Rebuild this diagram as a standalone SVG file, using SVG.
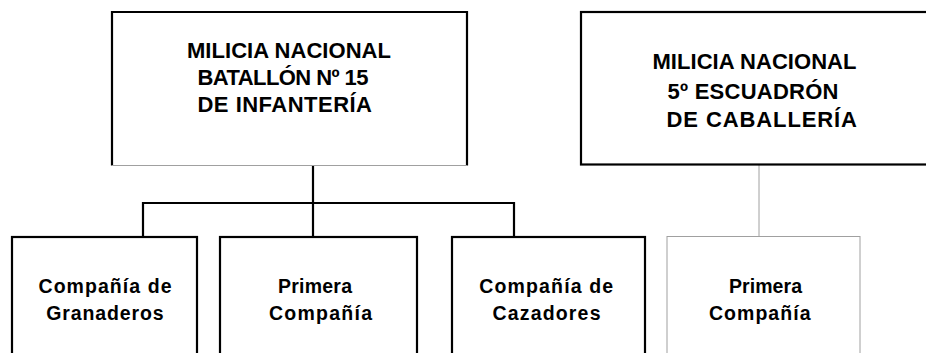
<svg xmlns="http://www.w3.org/2000/svg" width="926" height="353" viewBox="0 0 926 353">
<style>
.bx{fill:#fff;stroke:#000;stroke-width:2.2}
.gx{fill:#fff;stroke:#a0a0a0;stroke-width:1}
.t{font-family:"Liberation Sans",Arial,sans-serif;font-weight:bold;font-size:22px;fill:#000}
.s{font-family:"Liberation Sans",Arial,sans-serif;font-weight:bold;font-size:19.5px;fill:#000}
.c{fill:none;stroke:#000;stroke-width:2.2}
.cg{fill:none;stroke:#a0a0a0;stroke-width:1}
</style>
<rect width="926" height="353" fill="#fff"/>
<g id="connectors">
<path class="c" d="M313 166 V237"/>
<path class="c" d="M143 237 V203 H514 V237"/>
<path class="cg" d="M759 165 V236"/>
</g>
<g id="n1">
<rect x="112" y="12" width="355" height="153.5" fill="#fff"/>
<path class="c" d="M112 165.5 V12 H467 V165.5"/>
<path class="cg" d="M112 165.5 H467"/>
<text class="t" x="187" y="57.5" textLength="204" lengthAdjust="spacing">MILICIA NACIONAL</text>
<text class="t" x="197.5" y="84.5" textLength="171" lengthAdjust="spacing">BATALLÓN Nº 15</text>
<text class="t" x="197.5" y="112" textLength="174.5" lengthAdjust="spacing">DE INFANTERÍA</text>
</g>
<g id="n2">
<rect class="bx" x="581" y="12" width="360" height="152.5"/>
<text class="t" x="652.5" y="68.5" textLength="204" lengthAdjust="spacing">MILICIA NACIONAL</text>
<text class="t" x="667.5" y="98.5" textLength="171" lengthAdjust="spacing">5º ESCUADRÓN</text>
<text class="t" x="666.5" y="126.5" textLength="190.5" lengthAdjust="spacing">DE CABALLERÍA</text>
</g>
<g id="n3">
<rect class="bx" x="12" y="237" width="185" height="140"/>
<text class="s" x="38.5" y="293" textLength="133" lengthAdjust="spacing">Compañía de</text>
<text class="s" x="46.2" y="319.5" textLength="117.5" lengthAdjust="spacing">Granaderos</text>
</g>
<g id="n4">
<rect class="bx" x="220" y="237" width="197" height="140"/>
<text class="s" x="278" y="293" textLength="74" lengthAdjust="spacing">Primera</text>
<text class="s" x="269" y="319.5" textLength="103" lengthAdjust="spacing">Compañía</text>
</g>
<g id="n5">
<rect class="bx" x="452" y="237" width="193" height="140"/>
<text class="s" x="479.2" y="293" textLength="134" lengthAdjust="spacing">Compañía de</text>
<text class="s" x="492.5" y="319.5" textLength="108" lengthAdjust="spacing">Cazadores</text>
</g>
<g id="n6">
<rect class="gx" x="667" y="236.5" width="193" height="140"/>
<text class="s" x="729" y="293" textLength="73" lengthAdjust="spacing">Primera</text>
<text class="s" x="709" y="319.5" textLength="101.5" lengthAdjust="spacing">Compañía</text>
</g>
</svg>
